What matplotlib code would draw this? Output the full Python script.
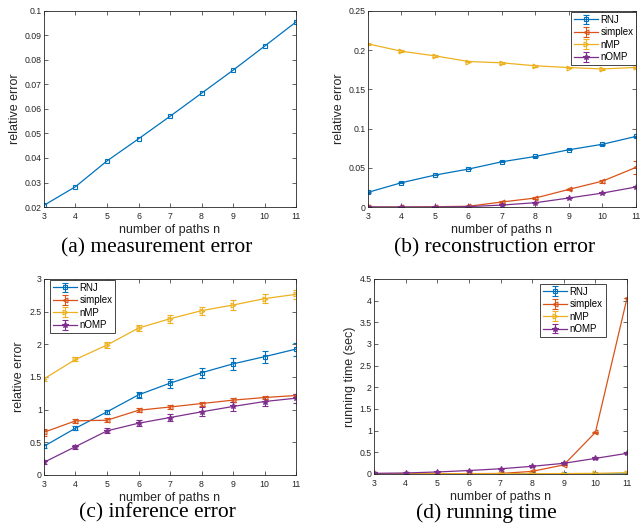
import matplotlib.pyplot as plt

plt.rcParams["font.family"] = ["Liberation Sans", "DejaVu Sans"]

n = [3, 4, 5, 6, 7, 8, 9, 10, 11]
names = ["RNJ", "simplex", "nMP", "nOMP"]
colors = ["#0072BD", "#D95319", "#EDB120", "#7E2F8E"]
markers = ["s", "<", ">", "*"]

# (a) measurement error
meas_err = [0.0207, 0.0283, 0.0388, 0.0478, 0.0570, 0.0664, 0.0758, 0.0856, 0.0955]

# (b) reconstruction error
rec_rnj = [0.0187, 0.031, 0.0407, 0.0484, 0.0577, 0.0645, 0.073, 0.080, 0.090]
rec_simplex = [0.0, 0.0, 0.0003, 0.001, 0.0064, 0.0115, 0.0225, 0.033, 0.0505]
rec_nmp = [0.208, 0.1986, 0.1927, 0.1855, 0.1838, 0.180, 0.1778, 0.176, 0.178]
rec_nomp = [0.0, 0.0, 0.0, 0.0005, 0.0025, 0.0055, 0.0115, 0.0178, 0.0255]
rec_err_simplex = [0, 0, 0, 0, 0.001, 0.001, 0.001, 0.002, 0.0085]

# (c) inference error
inf_rnj = [0.44, 0.715, 0.966, 1.226, 1.405, 1.564, 1.70, 1.81, 1.926]
inf_simplex = [0.654, 0.828, 0.838, 0.99, 1.04, 1.093, 1.145, 1.185, 1.216]
inf_nmp = [1.47, 1.768, 1.988, 2.248, 2.39, 2.514, 2.60, 2.698, 2.764]
inf_nomp = [0.194, 0.434, 0.675, 0.792, 0.879, 0.966, 1.048, 1.124, 1.175]
inf_sd_rnj = [0.03, 0.03, 0.03, 0.05, 0.07, 0.08, 0.09, 0.09, 0.10]
inf_sd_simplex = [0.05, 0.03, 0.03, 0.03, 0.03, 0.03, 0.03, 0.03, 0.03]
inf_sd_nmp = [0.03, 0.03, 0.04, 0.05, 0.06, 0.06, 0.07, 0.07, 0.07]
inf_sd_nomp = [0.03, 0.03, 0.04, 0.05, 0.06, 0.07, 0.07, 0.07, 0.07]

# (d) running time
time_rnj = [0.001, 0.001, 0.001, 0.001, 0.001, 0.001, 0.001, 0.002, 0.003]
time_simplex = [0.005, 0.006, 0.007, 0.008, 0.012, 0.06, 0.21, 0.96, 4.06]
time_nmp = [0.002, 0.002, 0.003, 0.004, 0.005, 0.007, 0.01, 0.015, 0.03]
time_nomp = [0.015, 0.023, 0.046, 0.08, 0.12, 0.177, 0.246, 0.36, 0.476]

fig = plt.figure(figsize=(6.43, 5.30), dpi=100)


def style(ax, ylim, yticks, ylabel):
    ax.set_xlim(3, 11)
    ax.set_xticks(n)
    ax.set_ylim(*ylim)
    ax.set_yticks(yticks)
    ax.set_yticklabels(["%g" % t for t in yticks])
    ax.tick_params(direction="in", top=True, right=True, labelsize=6.3,
                   length=3, width=0.5, color="#262626", labelcolor="#262626")
    ax.tick_params(axis="y", pad=1.5)
    for s in ax.spines.values():
        s.set_linewidth(0.6)
        s.set_color("#262626")
    ax.set_xlabel("number of paths n", fontsize=9, color="#262626", labelpad=2)
    ax.set_ylabel(ylabel, fontsize=9, color="#262626", labelpad=3)


def draw(ax, series, errs):
    for y, e, c, m, name in zip(series, errs, colors, markers, names):
        ms = 4 if m == "*" else 3.5
        ax.errorbar(n, y, yerr=e, color=c, marker=m, markersize=ms,
                    markerfacecolor=c if m == "*" else "none", markeredgewidth=0.8,
                    linewidth=0.9, elinewidth=0.8, capsize=2.5, label=name)


def legend(ax, **kw):
    leg = ax.legend(fontsize=7, fancybox=False, edgecolor="#262626",
                    framealpha=1, handlelength=2.4, borderpad=0.3,
                    labelspacing=0.25, handletextpad=0.3, **kw)
    leg.get_frame().set_linewidth(0.6)


# (a)
ax1 = fig.add_axes([0.0684, 0.6094, 0.392, 0.370])
ax1.plot(n, meas_err, color=colors[0], marker="s", markersize=3.5,
         markerfacecolor="none", markeredgewidth=0.8, linewidth=0.9)
style(ax1, (0.02, 0.1), [0.02, 0.03, 0.04, 0.05, 0.06, 0.07, 0.08, 0.09, 0.1],
      "relative error")

# (b)
ax2 = fig.add_axes([0.5723, 0.6094, 0.4168, 0.370])
draw(ax2, [rec_rnj, rec_simplex, rec_nmp, rec_nomp],
     [[0.0005] * 9, rec_err_simplex, [0.001] * 9, [0.0005] * 9])
style(ax2, (0, 0.25), [0, 0.05, 0.1, 0.15, 0.2, 0.25], "relative error")
legend(ax2, loc="upper right", bbox_to_anchor=(1.005, 1.0), borderaxespad=0.1)

# (c)
ax3 = fig.add_axes([0.0684, 0.1038, 0.392, 0.370])
draw(ax3, [inf_rnj, inf_simplex, inf_nmp, inf_nomp],
     [inf_sd_rnj, inf_sd_simplex, inf_sd_nmp, inf_sd_nomp])
style(ax3, (0, 3), [0, 0.5, 1, 1.5, 2, 2.5, 3], "relative error")
legend(ax3, loc="upper left", bbox_to_anchor=(0.025, 0.995), borderaxespad=0)

# (d)
ax4 = fig.add_axes([0.5817, 0.1057, 0.3935, 0.368])
draw(ax4, [time_rnj, time_simplex, time_nmp, time_nomp],
     [[0.0005] * 9, [0.003] * 9, [0.002] * 9, [0.005] * 9])
style(ax4, (0, 4.5), [0, 0.5, 1, 1.5, 2, 2.5, 3, 3.5, 4, 4.5], "running time (sec)")
legend(ax4, loc="upper right", bbox_to_anchor=(0.915, 0.975), borderaxespad=0)

# captions
cap = dict(fontsize=15.5, family="Liberation Serif", ha="center", va="center")
fig.text(157 / 643, 1 - 248 / 530, "(a) measurement error", **cap)
fig.text(495 / 643, 1 - 248 / 530, "(b) reconstruction error", **cap)
fig.text(157 / 643, 1 - 513 / 530, "(c) inference error", **cap)
fig.text(486 / 643, 1 - 513 / 530, "(d) running time", **cap)

fig.savefig("out.png", dpi=100)
